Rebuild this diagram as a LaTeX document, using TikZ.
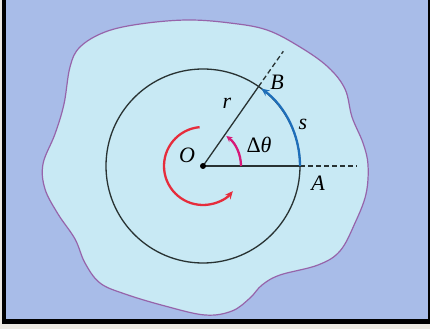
\documentclass[tikz,border=0pt]{standalone}
\usepackage{fontspec}
\setmainfont{Liberation Serif}
\usetikzlibrary{arrows.meta}
\definecolor{bgblue}{RGB}{168,188,232}
\definecolor{blobfill}{RGB}{200,233,244}
\definecolor{blobline}{RGB}{150,100,170}
\definecolor{framecol}{RGB}{236,233,226}
\definecolor{arcblue}{RGB}{30,110,185}
\definecolor{arcmag}{RGB}{215,25,120}
\definecolor{arcred}{RGB}{230,45,60}
\definecolor{ink}{RGB}{40,50,50}
\begin{document}
\begin{tikzpicture}[x=1pt,y=1pt,
  lbl/.style={font=\fontsize{22}{26}\selectfont\itshape, inner sep=0pt},
  radial/.style={ink, line width=1.3pt},
  ext/.style={ink, line width=1.3pt, dash pattern=on 5pt off 3pt},
  turn/.style={line width=2.3pt, -{Stealth[length=8pt,width=7pt]}}]
\useasboundingbox (0,0) rectangle (430,329);
\fill[framecol] (0,0) rectangle (430,329);
\fill[black] (2,5) rectangle (430,329);
\fill[bgblue] (6,10) rectangle (428,329);
\draw[blobline, fill=blobfill, line width=1.2pt] plot[smooth cycle, tension=0.6] coordinates {
(80,282) (105,297) (140,305) (187,309) (230,306) (267,299)
(300,282) (328,262) (345,240) (352,212) (363,186) (368,164)
(366,135) (355,106) (340,78) (318,64) (280,54) (262,44) (250,31)
(232,18) (205,14) (165,23) (125,35) (100,46) (85,66) (75,90)
(58,115) (45,140) (43,165) (55,195) (64,225) (70,262)};
\coordinate (O) at (203,163);
\coordinate (A) at (300,163);
\coordinate (Aext) at (357,163);
\coordinate (B) at (258.6,242.5);
\coordinate (Bext) at (283.3,277.7);
\draw[ink, line width=1.3pt] (O) circle[radius=97];
\draw[radial] (O) -- (A);
\draw[ext] (A) -- (Aext);
\draw[radial] (O) -- (B);
\draw[ext] (B) -- (Bext);
\draw[turn, arcblue] (A) arc[start angle=0, end angle=53, radius=97];
\draw[turn, arcmag, -{Stealth[length=6pt,width=6pt]}] (O) ++(38,0) arc[start angle=0, end angle=52, radius=38];
\draw[turn, arcred] (O) ++(95:39) arc[start angle=95, end angle=320, radius=39];
\fill[black] (O) circle[radius=3];
\node[lbl] (lB) at (277,247) {B};
\node[lbl] (lr) at (227,226) {r};
\node[lbl] (ls) at (303,205) {s};
\node[lbl] (lt) at (259,184) {{\upshape Δ}θ};
\node[lbl] (lO) at (187,174) {O};
\node[lbl] (lA) at (318,146) {A};
\end{tikzpicture}
\end{document}
